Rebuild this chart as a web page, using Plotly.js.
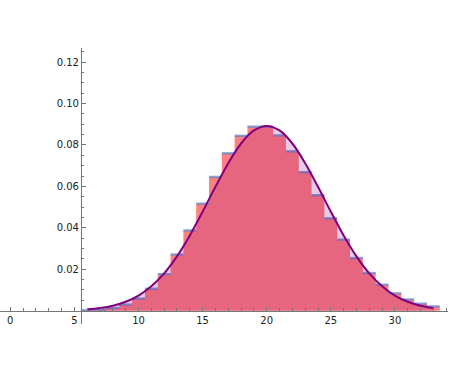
<!DOCTYPE html>
<html><head><meta charset="utf-8">
<script src="https://cdn.plot.ly/plotly-3.0.1.min.js"></script>
<style>html,body{margin:0;padding:0;background:#fff}#chart{width:450px;height:375px}</style>
</head><body><div id="chart"></div>
<script>
// Discrete values (integer outcomes) and their probabilities
const counts = [6,7,8,9,10,11,12,13,14,15,16,17,18,19,20,21,22,23,24,25,26,27,28,29,30,31,32,33];
const probs  = [0.00018,0.00052,0.00131,0.00291,0.00582,0.01058,0.01763,0.02712,0.03874,0.05165,
                0.06457,0.07596,0.08440,0.08884,0.08884,0.08461,0.07692,0.06689,0.05574,0.04459,
                0.03430,0.02541,0.01815,0.01252,0.00834,0.00538,0.00337,0.00204];
// Smooth density curve, read at integer points
const curveX = [6,7,8,9,10,11,12,13,14,15,16,17,18,19,20,21,22,23,24,25,26,27,28,29,30,31,32,33];
const curveY = [0.00066,0.0013,0.0024,0.0043,0.0073,0.0118,0.0180,0.0262,0.0363,0.0478,
                0.0598,0.0712,0.0807,0.0870,0.0892,0.0870,0.0807,0.0712,0.0598,0.0478,
                0.0363,0.0262,0.0180,0.0118,0.0073,0.0043,0.0024,0.0013];
const yTickVals = [0.02,0.04,0.06,0.08,0.10,0.12];
const xTickVals = [0,5,10,15,20,25,30];

const n = counts.length;
const stepX = counts.map(k => k - 0.5).concat([counts[n-1] + 0.5]);
const stepY = probs.concat([probs[n-1]]);
const segX = [], segY = [];
counts.forEach((k, i) => { segX.push(k - 0.5, k + 0.5, null); segY.push(probs[i], probs[i], null); });

const yMinor = [];
for (let i = 1; i <= 25; i++) { const v = +(i * 0.005).toFixed(3); if (!yTickVals.some(t => Math.abs(t - v) < 1e-9)) yMinor.push(v); }
const xMinor = [];
for (let i = 0; i <= 34; i++) { if (!xTickVals.includes(i)) xMinor.push(i); }

const axisCol = '#777777';
const tickFont = {family: 'DejaVu Sans', size: 10, color: '#222222'};

const traces = [
  {x: stepX, y: stepY, mode: 'lines', line: {shape: 'hv', width: 0, color: 'rgba(0,0,0,0)'},
   fill: 'tozeroy', fillcolor: 'rgb(255,128,128)', hoverinfo: 'skip'},
  {x: segX, y: segY, mode: 'lines', line: {color: 'rgba(100,132,196,0.75)', width: 2.4}, connectgaps: false, hoverinfo: 'skip'},
  {x: curveX, y: curveY, mode: 'lines', line: {shape: 'spline', smoothing: 1, color: '#800080', width: 2},
   fill: 'tozeroy', fillcolor: 'rgba(128,0,128,0.2)', hoverinfo: 'skip'}
];

const layout = {
  width: 450, height: 375,
  margin: {l: 0, r: 2, t: 48, b: 51, pad: 0},
  paper_bgcolor: '#ffffff', plot_bgcolor: 'rgba(0,0,0,0)',
  showlegend: false,
  xaxis: {
    range: [-0.803, 34.14], anchor: 'free', position: 0.0482,
    tickmode: 'array', tickvals: xTickVals, ticktext: xTickVals.map(String),
    ticks: 'inside', ticklen: 4, tickwidth: 1, tickcolor: axisCol,
    showline: true, linecolor: axisCol, linewidth: 1,
    showgrid: false, zeroline: false, tickfont: tickFont,
    minor: {tickmode: 'array', tickvals: xMinor, ticks: 'inside', ticklen: 2.5, tickcolor: axisCol, showgrid: false}
  },
  yaxis: {
    range: [-0.00643, 0.1268], anchor: 'free', position: 0.1808,
    tickmode: 'array', tickvals: yTickVals, ticktext: yTickVals.map(v => v.toFixed(2)),
    ticks: 'inside', ticklen: 4, tickwidth: 1, tickcolor: axisCol,
    showline: true, linecolor: axisCol, linewidth: 1,
    showgrid: false, zeroline: false, tickfont: tickFont,
    minor: {tickmode: 'array', tickvals: yMinor, ticks: 'inside', ticklen: 2.5, tickcolor: axisCol, showgrid: false}
  }
};

Plotly.newPlot('chart', traces, layout, {staticPlot: true, displayModeBar: false});
</script></body></html>
